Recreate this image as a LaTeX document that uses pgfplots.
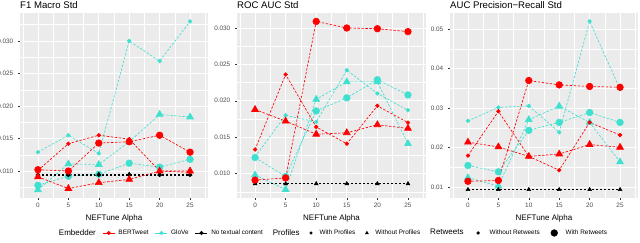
\documentclass[border=0pt]{standalone}
\usepackage{fontspec}
\setmainfont{Liberation Sans}
\usepackage{pgfplots}
\pgfplotsset{compat=1.18}
\definecolor{panelbg}{HTML}{EBEBEB}
\definecolor{turq}{HTML}{40E0D0}
\definecolor{gray20}{HTML}{333333}
\definecolor{gray30}{HTML}{4D4D4D}
\pgfplotsset{
  panel/.style={
    scale only axis, anchor=south west,
    axis background/.style={fill=panelbg},
    axis line style={draw=none},
    grid=both,
    major grid style={white, line width=0.8pt},
    minor grid style={white, line width=0.4pt},
    xmin=-2.95, xmax=27.95,
    xtick={0,5,...,25},
    minor xtick={-2.5,2.5,...,27.5},
    tick align=outside,
    major tick length=2pt, minor tick length=0pt,
    tick style={gray20, line width=0.5pt},
    xtick pos=bottom, ytick pos=left,
    ticklabel style={font=\fontsize{6.4}{7}\selectfont, text=gray30},
    /pgf/number format/assume math mode=true,
    scaled y ticks=false,
    xticklabel style={anchor=base, inner sep=0pt, yshift=-7.3pt},
    yticklabel style={anchor=east, inner sep=0pt, xshift=-4.5pt},
    xlabel={NEFTune Alpha},
    every axis x label/.style={at={(axis description cs:0.5,0)}, anchor=base, yshift=-22.5pt, font=\fontsize{8}{9}\selectfont},
    every axis title/.style={at={(axis description cs:0,1)}, anchor=base west, yshift=4pt, inner sep=0pt, font=\fontsize{9.6}{11}\selectfont},
  },
  dl/.style={line width=0.65pt, dash pattern=on 2.4pt off 1.6pt, mark options={solid}},
  cs/.style={dl, mark=*, mark size=1.8pt},
  cb/.style={dl, mark=*, mark size=3.3pt},
  tb/.style={dl, mark=triangle*, mark size=3.9pt},
  ts/.style={dl, mark=triangle*, mark size=2.1pt},
  keyline/.style={legend image code/.code={%
      \draw[mark repeat=2, mark phase=2, ##1, solid] plot coordinates {(0pt,0pt)(6pt,0pt)(12pt,0pt)};}},
  keymark/.style={legend image code/.code={%
      \path[draw=none] (0pt,0pt) -- (10pt,0pt);
      \draw[##1] plot coordinates {(5pt,0pt)};}},
  keymarkw/.style={legend image code/.code={%
      \path[draw=none] (0pt,0pt) -- (16pt,0pt);
      \draw[##1] plot coordinates {(8pt,0pt)};}},
}
\begin{document}
\begin{tikzpicture}[x=1pt,y=1pt]
\path[use as bounding box] (0,0) rectangle (640,243);

% ---------------- F1 Macro Std
\begin{axis}[panel, at={(20pt,45pt)}, width=188pt, height=185pt,
  title={F1 Macro Std},
  ymin=0.00585, ymax=0.0343,
  ytick={0.010,0.015,0.020,0.025,0.030},
  minor ytick={0.0075,0.0125,0.0175,0.0225,0.0275,0.0325},
  yticklabel style={/pgf/number format/fixed, /pgf/number format/fixed zerofill, /pgf/number format/precision=3}]
\addplot[turq, cs] coordinates {(0,0.0129)(5,0.0155)(10,0.0127)(15,0.0300)(20,0.0269)(25,0.0330)};
\addplot[turq, cb] coordinates {(0,0.0078)(5,0.0092)(10,0.0095)(15,0.0112)(20,0.0106)(25,0.0118)};
\addplot[turq, tb] coordinates {(0,0.0071)(5,0.0111)(10,0.0110)(15,0.0145)(20,0.0187)(25,0.0183)};
\addplot[black, cs] coordinates {(0,0.0094)(5,0.0094)(10,0.0094)(15,0.0094)(20,0.0094)(25,0.0094)};
\addplot[black, ts] coordinates {(0,0.0095)(5,0.0095)(10,0.0095)(15,0.0095)(20,0.0095)(25,0.0095)};
\addplot[red, cs] coordinates {(0,0.0101)(5,0.0142)(10,0.0155)(15,0.0149)(20,0.0100)(25,0.0098)};
\addplot[red, cb] coordinates {(0,0.0102)(5,0.0100)(10,0.0143)(15,0.0145)(20,0.0155)(25,0.0129)};
\addplot[red, tb] coordinates {(0,0.0091)(5,0.0073)(10,0.0082)(15,0.0087)(20,0.0100)(25,0.0100)};
\end{axis}

% ---------------- ROC AUC Std
\begin{axis}[panel, at={(237pt,45pt)}, width=189pt, height=185pt,
  title={ROC AUC Std},
  ymin=0.00664, ymax=0.03206,
  ytick={0.010,0.015,0.020,0.025,0.030},
  minor ytick={0.0075,0.0125,0.0175,0.0225,0.0275},
  yticklabel style={/pgf/number format/fixed, /pgf/number format/fixed zerofill, /pgf/number format/precision=3},
  legend columns=10,
  legend style={at={(axis description cs:0.5,-0.189)}, anchor=center, draw=none, fill=none,
    font=\fontsize{6.4}{7}\selectfont, inner sep=0pt, column sep=3pt,
    /tikz/every even column/.append style={column sep=6pt},
    nodes={inner sep=0.5pt}}]
\addlegendimage{empty legend}\addlegendentry{\fontsize{8}{9}\selectfont Embedder}
\addlegendimage{keyline, red, mark=*, mark size=1.7pt, line width=0.6pt}\addlegendentry{BERTweet}
\addlegendimage{keyline, turq, mark=*, mark size=1.7pt, line width=0.6pt}\addlegendentry{GloVe}
\addlegendimage{keyline, black, mark=*, mark size=1.7pt, line width=0.6pt}\addlegendentry{No textual content\hspace{8pt}}
\addlegendimage{empty legend}\addlegendentry{\fontsize{8}{9}\selectfont Profiles}
\addlegendimage{keymark, black, mark=*, mark size=1.3pt}\addlegendentry{With Profiles}
\addlegendimage{keymark, black, mark=triangle*, mark size=1.7pt}\addlegendentry{Without Profiles\hspace{8pt}}
\addlegendimage{empty legend}\addlegendentry{\fontsize{8}{9}\selectfont Retweets}
\addlegendimage{keymarkw, black, mark=*, mark size=1.5pt}\addlegendentry{Without Retweets}
\addlegendimage{keymarkw, black, mark=*, mark size=3.4pt}\addlegendentry{With Retweets}
\addplot[forget plot, turq, cs] coordinates {(0,0.0123)(5,0.0180)(10,0.0171)(15,0.0242)(20,0.0210)(25,0.0187)};
\addplot[forget plot, turq, cb] coordinates {(0,0.0122)(5,0.0096)(10,0.0186)(15,0.0204)(20,0.0229)(25,0.0208)};
\addplot[forget plot, turq, tb] coordinates {(0,0.0098)(5,0.0078)(10,0.0202)(15,0.0226)(20,0.0226)(25,0.0141)};
\addplot[forget plot, black, ts] coordinates {(0,0.0086)(5,0.0086)(10,0.0086)(15,0.0086)(20,0.0086)(25,0.0086)};
\addplot[forget plot, red, cs] coordinates {(0,0.0133)(5,0.0236)(10,0.0164)(15,0.0141)(20,0.0193)(25,0.0170)};
\addplot[forget plot, red, cb] coordinates {(0,0.0091)(5,0.0094)(10,0.0309)(15,0.0300)(20,0.0299)(25,0.0295)};
\addplot[forget plot, red, tb] coordinates {(0,0.0188)(5,0.0172)(10,0.0154)(15,0.0156)(20,0.0167)(25,0.0162)};
\end{axis}

% ---------------- AUC Precision-Recall Std
\begin{axis}[panel, at={(450pt,45pt)}, width=188pt, height=185pt,
  title={AUC Precision−Recall Std},
  ymin=0.00727, ymax=0.0541,
  ytick={0.01,0.02,0.03,0.04,0.05},
  minor ytick={0.015,0.025,0.035,0.045},
  yticklabel style={/pgf/number format/fixed, /pgf/number format/fixed zerofill, /pgf/number format/precision=2}]
\addplot[turq, cs] coordinates {(0,0.0268)(5,0.0302)(10,0.0306)(15,0.0239)(20,0.0520)(25,0.0348)};
\addplot[turq, cb] coordinates {(0,0.0155)(5,0.0139)(10,0.0244)(15,0.0264)(20,0.0289)(25,0.0264)};
\addplot[turq, tb] coordinates {(0,0.0124)(5,0.0103)(10,0.0271)(15,0.0305)(20,0.0264)(25,0.0164)};
\addplot[black, ts] coordinates {(0,0.0094)(5,0.0094)(10,0.0094)(15,0.0094)(20,0.0094)(25,0.0094)};
\addplot[red, cs] coordinates {(0,0.0180)(5,0.0292)(10,0.0178)(15,0.0143)(20,0.0264)(25,0.0232)};
\addplot[red, cb] coordinates {(0,0.0115)(5,0.0117)(10,0.0370)(15,0.0359)(20,0.0355)(25,0.0353)};
\addplot[red, tb] coordinates {(0,0.0214)(5,0.0202)(10,0.0178)(15,0.0184)(20,0.0208)(25,0.0201)};
\end{axis}
\end{tikzpicture}
\end{document}
